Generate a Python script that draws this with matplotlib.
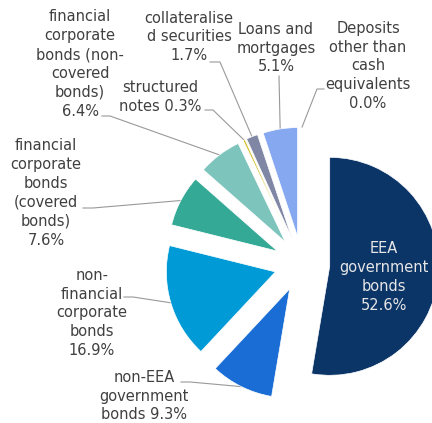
import numpy as np
import matplotlib
matplotlib.use('Agg')
import matplotlib.pyplot as plt

# Breakdown of the portfolio by asset type (%)
labels = [
    "EEA\ngovernment\nbonds\n",
    "non-EEA\ngovernment\nbonds ",
    "non-\nfinancial\ncorporate\nbonds\n",
    "financial\ncorporate\nbonds\n(covered\nbonds)\n",
    "financial\ncorporate\nbonds (non-\ncovered\nbonds)\n",
    "structured\nnotes ",
    "collateralise\nd securities\n",
    "Loans and\nmortgages\n",
    "Deposits\nother than\ncash\nequivalents\n",
]
values = [52.6, 9.3, 16.9, 7.6, 6.4, 0.3, 1.7, 5.1, 0.0]
colors = ["#0B3467", "#1A6DD4", "#009BD6", "#33A996", "#7CC4BC",
          "#D5BE2B", "#7F87A5", "#86A8F0", "#9FC0F5"]

# pixel layout helpers (pie centre at 302,264 px, radius 109 px)
CX, CY, R = 302, 264, 109


def px(x, y):
    return (x - CX) / R, (CY - y) / R


fig = plt.figure(figsize=(4.32, 4.23), dpi=100)
ax = fig.add_axes([0, 0, 1, 1])

wedges, _ = ax.pie(values, colors=colors, explode=[0.255] * len(values),
                   startangle=90, counterclock=False, radius=1,
                   wedgeprops=dict(edgecolor='white', linewidth=0.5))

ax.set_xlim(*[(v - CX) / R for v in (0, 432)])
ax.set_ylim(*[(CY - v) / R for v in (423, 0)])
ax.set_aspect('equal')
ax.axis('off')

# label position, leader start, leader elbow (pixels); index 0 sits inside
text_pos = [(384, 277), (144, 396), (92, 313), (46, 193), (80, 64),
            (160, 97), (189, 37), (276, 48), (368, 66)]
lead_start = [None, (181, 382), (124, 297), (83, 208), (102, 116),
              (205, 110), (210, 62), (279, 76), (324, 89)]
lead_elbow = [None, (190, 382), (133, 297), (93, 208), (110, 116),
              (213, 110), (220, 62), (279, 76), (317, 89)]

for i, w in enumerate(wedges):
    txt = labels[i] + f"{values[i]:.1f}%"
    col = "#E6E6E6" if i == 0 else "#404040"
    ax.text(*px(*text_pos[i]), txt, ha='center', va='center',
            fontsize=10.5, color=col, linespacing=1.32)
    if lead_start[i] is None:
        continue
    mid = np.deg2rad((w.theta1 + w.theta2) / 2)
    ex = w.center[0] + w.r * np.cos(mid)
    ey = w.center[1] + w.r * np.sin(mid)
    sx, sy = px(*lead_start[i])
    bx, by = px(*lead_elbow[i])
    ax.plot([sx, bx, ex], [sy, by, ey], color="#999999", lw=0.8,
            zorder=0.5)

fig.savefig("out.png", dpi=100)
